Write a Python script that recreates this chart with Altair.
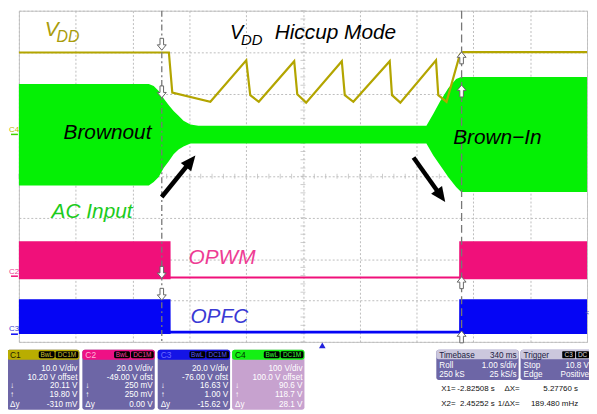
import math
import altair as alt
import numpy as np
import pandas as pd

# ---------------- scope screen geometry (10 x 8 divisions) ----------------
T_LEFT, T_RIGHT = -5.34, 4.66      # 1.00 s/div, 340 ms timebase delay
Y_LO, Y_HI = -4, 4                 # vertical divisions
W, H = 573, 334                    # plot area (px)
OX, OY = 19, 9                     # plot origin on the page

# ---------------- traces (time in s, vertical in divisions) ----------------
# C1: VDD (hiccup mode during brown-out)
vdd_t = [-5.34, -2.70, -2.64, -1.97, -1.338, -1.268, -1.117, -0.494, -0.44, -0.284,
         0.344, 0.396, 0.547, 1.187, 1.227, 1.374, 2.002, 2.042, 2.187, 2.421, 2.478, 4.66]
vdd_y = [2.99, 2.99, 2.02, 1.80, 2.80, 1.96, 1.80, 2.78, 1.98, 1.78,
         2.78, 1.96, 1.80, 2.78, 1.96, 1.78, 2.80, 1.96, 1.80, 2.94, 3.00, 3.00]

# C4: AC input envelope
ac_t = [-5.34, -3.054, -2.967, -2.879, -2.792, -2.705, -2.617, -2.530, -2.443, -2.321, -2.181,
        1.833, 1.955, 2.077, 2.217, 2.356, 2.444, 4.66]
ac_hi = [2.23, 2.23, 2.18, 2.06, 1.88, 1.72, 1.58, 1.46, 1.34, 1.25, 1.22,
         1.22, 1.51, 1.82, 2.13, 2.35, 2.40, 2.40]
ac_lo = [-0.22, -0.22, -0.14, -0.02, 0.20, 0.36, 0.53, 0.65, 0.72, 0.79, 0.79,
         0.79, 0.50, 0.26, -0.02, -0.26, -0.38, -0.38]

# C2: OPWM and C3: OPFC (switching bursts / idle)
gate_t = [-5.34, -2.671, -2.669, 2.409, 2.411, 4.66]
pwm_hi = [-1.57, -1.57, -2.42, -2.42, -1.57, -1.57]
pwm_lo = [-2.49, -2.49, -2.47, -2.47, -2.49, -2.49]
pfc_hi = [-2.97, -2.97, -3.73, -3.73, -2.97, -2.97]
pfc_lo = [-3.81, -3.81, -3.80, -3.80, -3.81, -3.81]

# cursors
cursor_t = [-2.82508, 2.45252]
x1_mark_y = [3.19, 2.04, -2.32, -2.85]
x2_mark_y = [2.86, 2.06, -2.57, -3.88]

# annotation arrows (start -> tip)
arr_t0 = [-2.827, 1.606]
arr_y0 = [-0.50, 0.455]
arr_t1 = [-2.234, 2.164]
arr_y1 = [0.50, -0.62]

# ---------------- readout panel text ----------------
ch_names = ["C1", "C2", "C3", "C4"]
ch_scale = ["10.0 V/div", "20.0 V/div", "20.0 V/div", "100 V/div"]
ch_offset = ["10.20 V offset", "-49.00 V ofst", "-76.00 V ofst", "100.0 V offset"]
ch_cur1 = ["20.11 V", "250 mV", "16.63 V", "90.6 V"]
ch_cur2 = ["19.80 V", "250 mV", "1.00 V", "118.7 V"]
ch_dy = ["-310 mV", "0.00 V", "-15.62 V", "28.1 V"]
timebase = ["Timebase", "340 ms", "Roll", "1.00 s/div", "250 kS", "25 kS/s"]
trigger = ["Trigger", "C3", "DC", "Stop", "10.8 V", "Edge", "Positive"]
readout_l = ["X1=", "X2="]
readout_v = ["-2.82508 s", "2.45252 s"]
readout_dl = ["\u0394X=", "1/\u0394X="]
readout_dv = ["5.27760 s", "189.480 mHz"]

# ---------------- styles ----------------
OLIVE = "#B3A500"
GREEN = "#05F005"
PINK = "#F0107A"
BLUE = "#0505F5"
FONT = "Liberation Sans"
PF = 8.2   # panel font size

xs = alt.Scale(domain=[T_LEFT, T_RIGHT], nice=False, zero=False)
ys = alt.Scale(domain=[Y_LO, Y_HI], nice=False, zero=False)
x_axis = alt.Axis(values=[round(T_LEFT + k, 3) for k in range(11)], labels=False, ticks=False,
                  domain=False, title=None, grid=True, gridColor="#bdbdbd", gridDash=[2, 2], gridWidth=1)
y_axis = alt.Axis(values=list(range(-4, 5)), labels=False, ticks=False,
                  domain=False, title=None, grid=True, gridColor="#bdbdbd", gridDash=[2, 2], gridWidth=1)


def X(f):
    return alt.X(f"{f}:Q", scale=xs, axis=x_axis)


def Y(f):
    return alt.Y(f"{f}:Q", scale=ys, axis=y_axis)


def px(t):
    return (t - T_LEFT) / (T_RIGHT - T_LEFT) * W


def py(y):
    return (Y_HI - y) / (Y_HI - Y_LO) * H


one = pd.DataFrame({"k": [0]})
layers = []

# centre graticule minor ticks
t_center = (T_LEFT + T_RIGHT) / 2
vt = pd.DataFrame({"t": [t_center] * 41, "y": np.round(np.arange(-20, 21) * 0.2, 3)})
ht = pd.DataFrame({"t": np.round(t_center + np.arange(-25, 26) * 0.2, 3), "y": [0.0] * 51})
layers.append(alt.Chart(vt).mark_tick(orient="horizontal", size=5, thickness=1, color="#b8b8b8")
              .encode(x=X("t"), y=Y("y")))
layers.append(alt.Chart(ht).mark_tick(orient="vertical", size=5, thickness=1, color="#b8b8b8")
              .encode(x=X("t"), y=Y("y")))

# traces
ac_df = pd.DataFrame({"t": ac_t, "hi": ac_hi, "lo": ac_lo})
layers.append(alt.Chart(ac_df).mark_area(color=GREEN, opacity=1)
              .encode(x=X("t"), y=Y("hi"), y2=alt.Y2("lo")))
pwm_df = pd.DataFrame({"t": gate_t, "hi": pwm_hi, "lo": pwm_lo})
layers.append(alt.Chart(pwm_df).mark_area(color=PINK, opacity=1)
              .encode(x=X("t"), y=Y("hi"), y2=alt.Y2("lo")))
pfc_df = pd.DataFrame({"t": gate_t, "hi": pfc_hi, "lo": pfc_lo})
layers.append(alt.Chart(pfc_df).mark_area(color=BLUE, opacity=1)
              .encode(x=X("t"), y=Y("hi"), y2=alt.Y2("lo")))
vdd_df = pd.DataFrame({"t": vdd_t, "y": vdd_y})
layers.append(alt.Chart(vdd_df).mark_line(color=OLIVE, strokeWidth=2.2)
              .encode(x=X("t"), y=Y("y")))

# cursor lines
layers.append(alt.Chart(pd.DataFrame({"t": [cursor_t[0]]}))
              .mark_rule(color="#777777", strokeWidth=1.3, strokeDash=[6, 3, 2, 3]).encode(x=X("t")))
layers.append(alt.Chart(pd.DataFrame({"t": [cursor_t[1]]}))
              .mark_rule(color="#777777", strokeWidth=1.3, strokeDash=[8, 4]).encode(x=X("t")))

DOWN = "M -0.3 -1 L 0.3 -1 L 0.3 0.1 L 0.75 0.1 L 0 1 L -0.75 0.1 L -0.3 0.1 Z"
UP = "M -0.3 1 L 0.3 1 L 0.3 -0.1 L 0.75 -0.1 L 0 -1 L -0.75 -0.1 L -0.3 -0.1 Z"
layers.append(alt.Chart(pd.DataFrame({"t": [cursor_t[0]] * 4, "y": x1_mark_y}))
              .mark_point(shape=DOWN, size=144, filled=True, fill="white", stroke="#666666",
                          strokeWidth=1, opacity=1)
              .encode(x=X("t"), y=Y("y")))
layers.append(alt.Chart(pd.DataFrame({"t": [cursor_t[1]] * 4, "y": x2_mark_y}))
              .mark_point(shape=UP, size=144, filled=True, fill="white", stroke="#666666",
                          strokeWidth=1, opacity=1)
              .encode(x=X("t"), y=Y("y")))

# black annotation arrows
HEAD = "M 0 0 L 0.45 1 L -0.45 1 Z"
for t0, y0, t1, y1 in zip(arr_t0, arr_y0, arr_t1, arr_y1):
    dx, dy = px(t1) - px(t0), py(y1) - py(y0)
    length = math.hypot(dx, dy)
    f = 1 - 9 / length
    ang = math.degrees(math.atan2(dx, -dy)) % 360
    shaft = pd.DataFrame({"t0": [t0], "y0": [y0], "t1": [t0 + (t1 - t0) * f], "y1": [y0 + (y1 - y0) * f]})
    layers.append(alt.Chart(shaft).mark_rule(color="black", strokeWidth=4.5, strokeCap="butt")
                  .encode(x=X("t0"), y=Y("y0"), x2=alt.X2("t1"), y2=alt.Y2("y1")))
    layers.append(alt.Chart(pd.DataFrame({"t": [t1], "y": [y1]}))
                  .mark_point(shape=HEAD, size=900, filled=True, color="black", angle=ang, opacity=1,
                              strokeWidth=0)
                  .encode(x=X("t"), y=Y("y")))


# ---------------- text helpers (page pixel layout) ----------------
def T(s, x, y, size=PF, color="white", align="left", italic=False, weight="normal"):
    return (alt.Chart(one)
            .mark_text(fontSize=size, color=color, align=align, baseline="alphabetic", font=FONT,
                       fontStyle="italic" if italic else "normal", fontWeight=weight)
            .encode(x=alt.value(x - OX), y=alt.value(y - OY), text=alt.value(s)))


def R(x, x2, y, y2, fill, r=2.5):
    return (alt.Chart(one).mark_rect(color=fill, cornerRadius=r, opacity=1)
            .encode(x=alt.value(x - OX), x2=alt.value(x2 - OX), y=alt.value(y - OY), y2=alt.value(y2 - OY)))


# trace labels
layers += [
    T("V", 45, 35, 21, "#A99C0C", italic=True),
    T("DD", 57, 41, 16, "#A99C0C", italic=True),
    T("V", 232, 38, 20, "black", italic=True),
    T("DD", 243, 44, 15, "black", italic=True),
    T("Hiccup Mode", 277, 38, 21, "black", italic=True),
    T("Brownout", 64, 138, 21, "black", italic=True),
    T("Brown\u2212In", 457, 143, 21, "black", italic=True),
    T("AC Input", 52, 218, 21, "#1CCB1C", italic=True),
    T("OPWM", 190, 264, 21, "#EE3C94", italic=True),
    T("OPFC", 192, 324, 21, "#3A3AD4", italic=True),
]

# channel ground markers on the left edge and trigger marker
layers += [
    T("C4", 9, 131, 8, "#BDB600"), R(11, 18, 133, 134.5, "#40D000", 0),
    T("C2", 9, 275, 8, "#EE3C94"), R(11, 18, 276, 277.5, PINK, 0),
    T("C3", 9, 332, 8, "#3A3AD4"), R(11, 18, 334.5, 336, BLUE, 0),
    T("<", 590, 316, 8, "#3A3AD4"),
]
layers.append(alt.Chart(one).mark_point(shape="triangle-up", size=45, filled=True, color="#2222DD", opacity=1)
              .encode(x=alt.value(325 - OX), y=alt.value(346.5 - OY)))

# channel info boxes
box_left = [7, 83, 159, 234]
hdr_col = ["#B9AD00", "#EE1185", "#1414E6", "#14F014"]
body_col = ["#6D66A6", "#6D66A6", "#6D66A6", "#C7A2CF"]
name_col = ["#1E1E00", "#FFB5DA", "#6A6AFF", "#003300"]
badge_col = ["#CFC330", "#FF3FA0", "#5A5AFF", "#3CFF3C"]
for i in range(4):
    L = box_left[i]
    layers += [
        R(L, L + 73, 351, 411.5, body_col[i]),
        R(L, L + 73, 351, 361, hdr_col[i]),
        R(L + 32, L + 48, 352.5, 359.5, "black", 1.5),
        R(L + 49, L + 72, 352.5, 359.5, "black", 1.5),
        T(ch_names[i], L + 3, 359.5, 8.5, name_col[i]),
        T("BwL", L + 40, 358.6, 6.5, badge_col[i], align="center"),
        T("DC1M", L + 60.5, 358.6, 6.5, badge_col[i], align="center"),
        T(ch_scale[i], L + 71, 372, PF, align="right"),
        T(ch_offset[i], L + 71, 381, PF, align="right"),
        T(ch_cur1[i], L + 71, 390, PF, align="right"),
        T(ch_cur2[i], L + 71, 399, PF, align="right"),
        T(ch_dy[i], L + 71, 408.5, PF, align="right"),
        T("\u2193", L + 3, 390, PF, align="left"),
        T("\u2191", L + 3, 399, PF, align="left"),
        T("\u0394y", L + 3, 408.5, PF, align="left"),
    ]

# timebase / trigger boxes
layers += [
    R(440, 523, 351, 381.5, "#6D66A6"),
    R(440, 523, 351, 360.5, "#CBC7DD"),
    T(timebase[0], 443, 358.8, PF, "#222244"),
    T(timebase[1], 521, 358.8, PF, "#222244", align="right"),
    T(timebase[2], 443, 369, PF),
    T(timebase[3], 521, 369, PF, align="right"),
    T(timebase[4], 443, 378.5, PF),
    T(timebase[5], 521, 378.5, PF, align="right"),
    R(525, 596, 351, 381.5, "#6D66A6"),
    R(525, 596, 351, 360.5, "#CBC7DD"),
    T(trigger[0], 528, 358.8, PF, "#222244"),
    R(567, 580, 352.5, 359.5, "black", 1),
    R(581, 594, 352.5, 359.5, "black", 1),
    T(trigger[1], 573.5, 358.6, 6.5, "#DDDDDD", align="center"),
    T(trigger[2], 587.5, 358.6, 6.5, "#DDDDDD", align="center"),
    T(trigger[3], 528, 369, PF),
    T(trigger[4], 594, 369, PF, align="right"),
    T(trigger[5], 528, 378.5, PF),
    T(trigger[6], 594, 378.5, PF, align="right"),
]

# cursor readouts
for r, yb in enumerate([393, 408]):
    layers += [
        T(readout_l[r], 445, yb, 8, "#111111"),
        T(readout_v[r], 499, yb, 8, "#111111", align="right"),
        T(readout_dl[r], 524, yb, 8, "#111111", align="right"),
        T(readout_dv[r], 583, yb, 8, "#111111", align="right"),
    ]

chart = (alt.layer(*layers)
         .properties(width=W, height=H, autosize=alt.AutoSizeParams(type="none"),
                     padding={"left": 11, "top": 1, "right": 2, "bottom": 70}, background="white")
         .configure_view(stroke="#c4c4c4", strokeWidth=1))

chart.save("out.html", embed_options={"renderer": "svg", "actions": False})
